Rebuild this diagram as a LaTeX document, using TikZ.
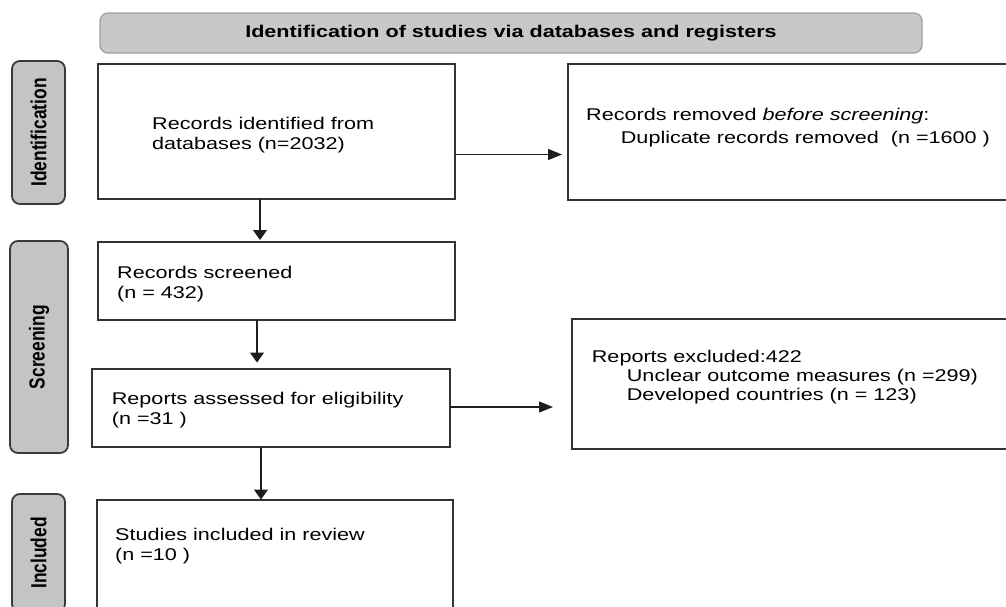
\documentclass[tikz,border=0pt]{standalone}
\usepackage{graphicx}
\usepackage{fontspec}
\setmainfont{Liberation Sans}[FakeStretch=1.27]
\newfontfamily\sidefont{Liberation Sans}
\usetikzlibrary{arrows.meta}

\definecolor{boxline}{HTML}{333333}
\definecolor{bannerfill}{HTML}{C8C8C8}
\definecolor{bannerline}{HTML}{A0A0A0}
\definecolor{sidefill}{HTML}{C4C4C4}
\definecolor{sideline}{HTML}{3A3A3A}
\definecolor{arrowcol}{HTML}{1E1E1E}

\tikzset{
  stagebox/.style={draw=boxline, line width=1.8pt, fill=white, rectangle,
    inner sep=0pt, outer sep=0pt, anchor=north west},
  banner/.style={draw=bannerline, line width=1.3pt, fill=bannerfill,
    rounded corners=8pt, inner sep=0pt, outer sep=0pt, anchor=north west},
  sidelabel/.style={draw=sideline, line width=1.8pt, fill=sidefill,
    rounded corners=8pt, inner sep=0pt, outer sep=0pt, anchor=north west},
  sidetext/.style={rotate=90, inner sep=0pt,
    font=\sidefont\fontsize{17.4}{20}\selectfont\bfseries},
  boxtext/.style={anchor=north west, inner sep=0pt, align=left,
    font=\fontsize{17}{20}\selectfont},
  harr/.style={draw=arrowcol, line width=1.3pt,
    -{Triangle[length=14pt, width=11pt]}},
  varr/.style={draw=arrowcol, line width=1.4pt,
    -{Triangle[length=10pt, width=14pt]}},
}

\begin{document}
\begin{tikzpicture}[x=1pt, y=-1pt]
\useasboundingbox (0,0) rectangle (1006,606);
\clip (0,0) rectangle (1006,606);

% heading banner
\node[banner, minimum width=822pt, minimum height=40pt] (ban) at (100,13) {};
\node[font=\fontsize{17}{20}\selectfont\bfseries, inner sep=0pt] (bantxt)
  at (ban.center) {Identification of studies via databases and registers};

% stage labels on the left
\node[sidelabel, minimum width=53pt, minimum height=143pt] (sid) at (12,61) {};
\node[sidetext] (sidt) at (sid.center) {\scalebox{1}[1.25]{Identification}};
\node[sidelabel, minimum width=58pt, minimum height=212pt] (sscr) at (10,241) {};
\node[sidetext] (sscrt) at (sscr.center) {\scalebox{1}[1.25]{Screening}};
\node[sidelabel, minimum width=53pt, minimum height=118pt] (sinc) at (12,494) {};
\node[sidetext] (sinct) at (sinc.center) {\scalebox{1}[1.25]{Included}};

% flow boxes
\node[stagebox, minimum width=357pt, minimum height=135pt] (b1) at (98,64) {};
\node[stagebox, minimum width=450pt, minimum height=136pt] (rem) at (567.7,64) {};
\node[stagebox, minimum width=357pt, minimum height=78pt] (scr) at (98,242) {};
\node[stagebox, minimum width=358pt, minimum height=78pt] (rep) at (92,369) {};
\node[stagebox, minimum width=445pt, minimum height=130pt] (exc) at (572,319) {};
\node[stagebox, minimum width=356pt, minimum height=130pt] (inc) at (97,500) {};

% box texts
\node[boxtext] (b1t) at (152,116.5) {Records identified from\\databases (n=2032)};
\node[boxtext, font=\fontsize{17}{23.5}\selectfont] (remt) at (586,107.5)
  {Records removed \textit{before screening}:\\
   \hspace*{34.7pt}Duplicate records removed\ \ (n =1600 )};
\node[boxtext] (scrt) at (117,266) {Records screened\\(n = 432)};
\node[boxtext] (rept) at (111.7,392) {Reports assessed for eligibility\\(n =31 )};
\node[boxtext, font=\fontsize{17}{19}\selectfont] (exct) at (591.7,349.5)
  {Reports excluded:422\\
   \hspace*{35pt}Unclear outcome measures (n =299)\\
   \hspace*{35pt}Developed countries (n = 123)};
\node[boxtext] (inct) at (115,527.5) {Studies included in review\\(n =10 )};

% connectors
\draw[varr, shorten >=2pt]
  ([xshift=162pt]b1.south west) -- ([xshift=162pt]b1.south west |- scr.north);
\draw[harr, shorten >=5.7pt]
  ([yshift=-90.5pt]b1.north east) -- ([yshift=-90.5pt]b1.north east -| rem.west);
\draw[varr, shorten >=6.5pt]
  ([xshift=159pt]scr.south west) -- ([xshift=159pt]scr.south west |- rep.north);
\draw[harr, shorten >=19pt]
  ([yshift=-38pt]rep.north east) -- ([yshift=-38pt]rep.north east -| exc.west);
\draw[varr, shorten >=0.5pt]
  ([xshift=169pt]rep.south west) -- ([xshift=169pt]rep.south west |- inc.north);
\end{tikzpicture}
\end{document}
